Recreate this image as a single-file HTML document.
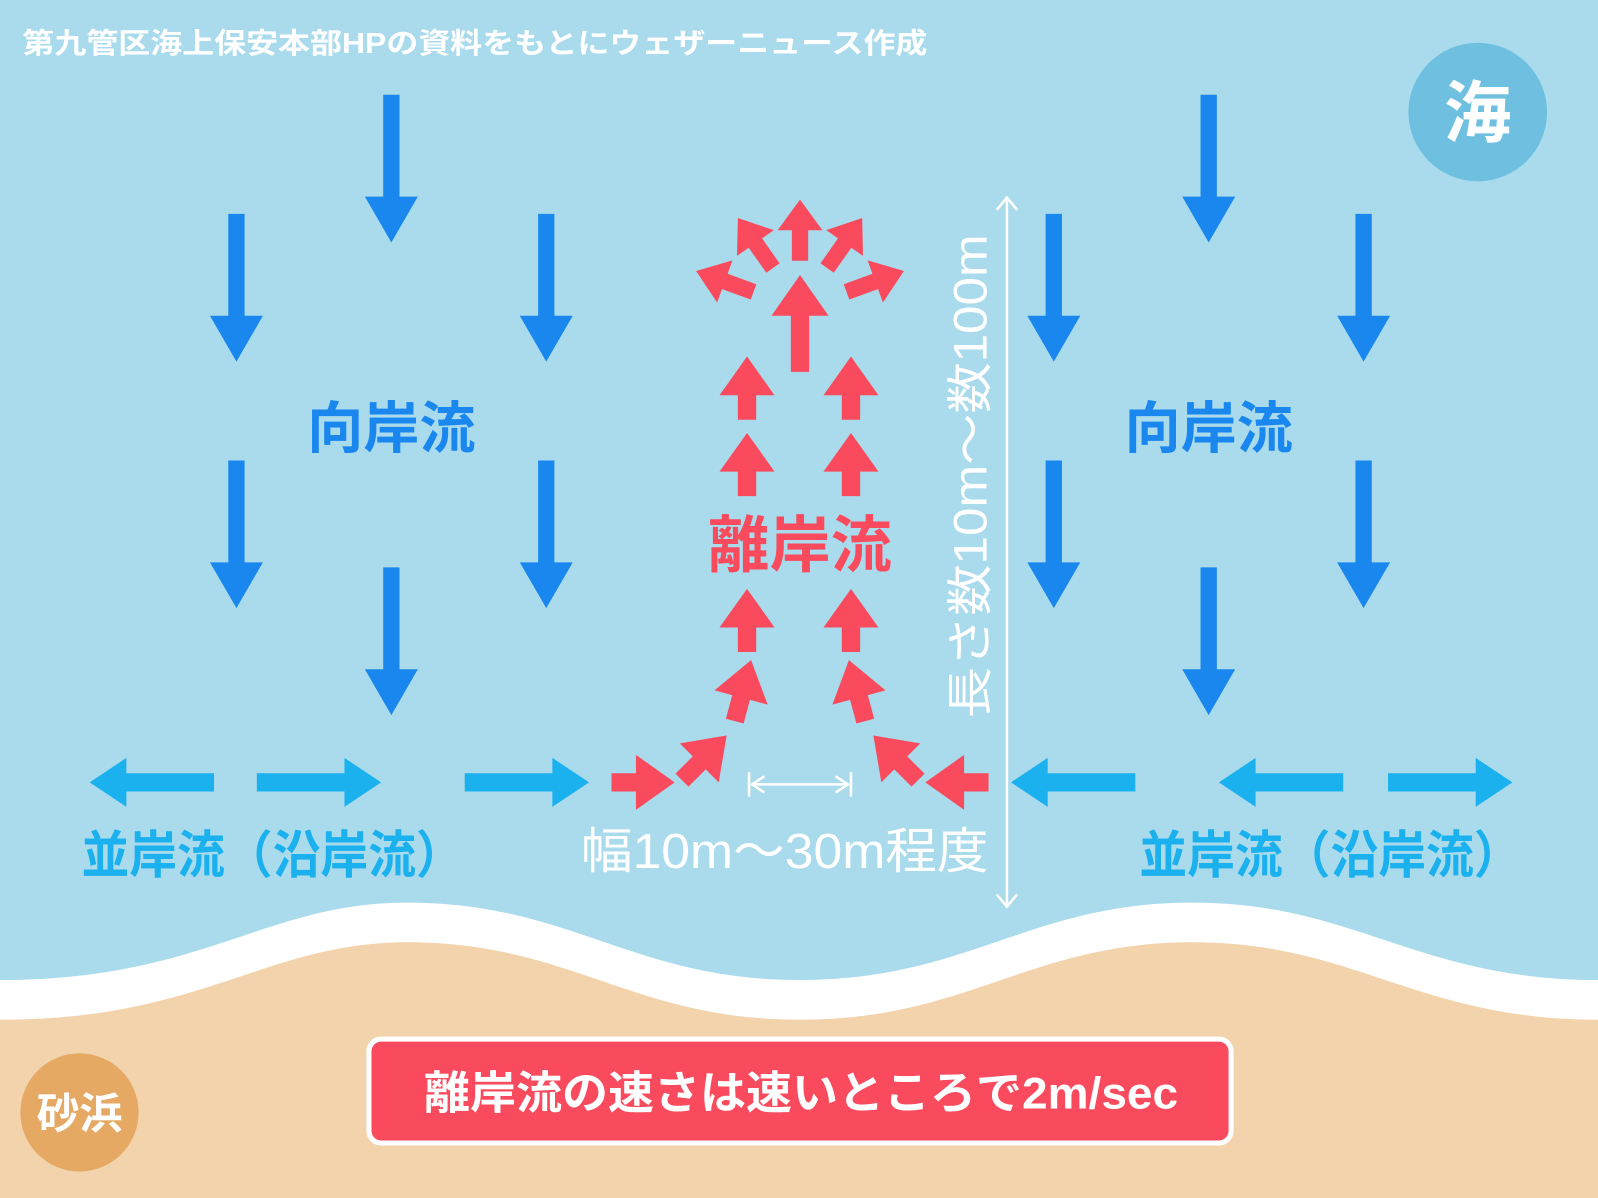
<!DOCTYPE html>
<html><head><meta charset="utf-8"><style>
html,body{margin:0;padding:0;background:#a9dbec}
svg{display:block}
text{font-family:"Liberation Sans","Noto Sans CJK JP",sans-serif;font-weight:bold}
</style></head><body>
<svg width="1598" height="1198" viewBox="0 0 1568 1176" preserveAspectRatio="none" xmlns="http://www.w3.org/2000/svg">
<defs>
<polygon id="bd" points="0,0 26,-45 8,-45 8,-145 -8,-145 -8,-45 -26,-45" fill="#1a87ef"/>
<polygon id="lb" points="0,0 36,-24 36,-9 122,-9 122,9 36,9 36,24" fill="#1bb0ee"/>
<polygon id="ru" points="0,0 27,38 9,38 9,62 -9,62 -9,38 -27,38" fill="#f94b5d"/>
<polygon id="rs" points="0,0 22,30 8,30 8,60 -8,60 -8,30 -22,30" fill="#f94b5d"/>
<polygon id="rb" points="0,0 28,40 9,40 9,95 -9,95 -9,40 -28,40" fill="#f94b5d"/>
</defs>
<rect width="1568" height="1176" fill="#a9dbec"/>
<path d="M0,962 C200,962 260,886 400,886 C560,886 620,962 785,962 C950,962 1010,886 1170,886 C1330,886 1390,962 1568,962 L1568,1176 L0,1176Z" fill="#fff"/>
<path d="M0,1001 C200,1001 260,925 400,925 C560,925 620,1001 785,1001 C950,1001 1010,925 1170,925 C1330,925 1390,1001 1568,1001 L1568,1176 L0,1176Z" fill="#f2d3ab"/>
<text x="22" y="52" font-size="28" fill="#fff" textLength="888" lengthAdjust="spacingAndGlyphs">第九管区海上保安本部HPの資料をもとにウェザーニュース作成</text>
<circle cx="1450" cy="110" r="68" fill="#6fbfe0"/>
<text x="1450" y="134" font-size="66" fill="#fff" text-anchor="middle">海</text>
<circle cx="78" cy="1092" r="58" fill="#e5a964"/>
<text x="78" y="1108" font-size="42" fill="#fff" text-anchor="middle">砂浜</text>
<rect x="362" y="1020" width="846" height="102" rx="12" fill="#f94b5d" stroke="#fff" stroke-width="5"/>
<text x="786" y="1088" font-size="44" fill="#fff" text-anchor="middle" textLength="740" lengthAdjust="spacingAndGlyphs">離岸流の速さは速いところで2m/sec</text>
<use href="#bd" transform="translate(384,238)"/>
<use href="#bd" transform="translate(232,355)"/>
<use href="#bd" transform="translate(536,355)"/>
<use href="#bd" transform="translate(232,597)"/>
<use href="#bd" transform="translate(536,597)"/>
<use href="#bd" transform="translate(384,702)"/>
<use href="#bd" transform="translate(1186,238)"/>
<use href="#bd" transform="translate(1034,355)"/>
<use href="#bd" transform="translate(1338,355)"/>
<use href="#bd" transform="translate(1034,597)"/>
<use href="#bd" transform="translate(1338,597)"/>
<use href="#bd" transform="translate(1186,702)"/>
<text x="384" y="440" font-size="55" fill="#1a87ef" text-anchor="middle">向岸流</text>
<text x="1186" y="440" font-size="55" fill="#1a87ef" text-anchor="middle">向岸流</text>
<use href="#lb" transform="translate(88,768)"/>
<use href="#lb" transform="translate(374,768) rotate(180)"/>
<use href="#lb" transform="translate(578,768) rotate(180)"/>
<use href="#lb" transform="translate(992,768)"/>
<use href="#lb" transform="translate(1196,768)"/>
<use href="#lb" transform="translate(1484,768) rotate(180)"/>
<text x="80" y="857" font-size="50" fill="#1bb0ee" textLength="375" lengthAdjust="spacingAndGlyphs">並岸流（沿岸流）</text>
<text x="1118" y="857" font-size="50" fill="#1bb0ee" textLength="375" lengthAdjust="spacingAndGlyphs">並岸流（沿岸流）</text>
<use href="#ru" transform="translate(733,350)"/>
<use href="#ru" transform="translate(835,350)"/>
<use href="#ru" transform="translate(733,425)"/>
<use href="#ru" transform="translate(835,425)"/>
<use href="#ru" transform="translate(733,578)"/>
<use href="#ru" transform="translate(835,578)"/>
<use href="#rb" transform="translate(785,270)"/>
<use href="#rs" transform="translate(785,196)"/>
<use href="#rs" transform="translate(724,214) rotate(-35)"/>
<use href="#rs" transform="translate(846,214) rotate(35)"/>
<use href="#rs" transform="translate(683,266) rotate(-70)"/>
<use href="#rs" transform="translate(887,266) rotate(70)"/>
<use href="#ru" transform="translate(662,768) rotate(90)"/>
<use href="#ru" transform="translate(713,722) rotate(45)"/>
<use href="#ru" transform="translate(737,648) rotate(15)"/>
<use href="#ru" transform="translate(908,768) rotate(-90)"/>
<use href="#ru" transform="translate(857,722) rotate(-45)"/>
<use href="#ru" transform="translate(833,648) rotate(-15)"/>
<text x="785" y="556" font-size="60" fill="#f94b5d" text-anchor="middle">離岸流</text>
<g stroke="#fff" stroke-width="2.5" fill="none">
<line x1="735" y1="758" x2="735" y2="782"/><line x1="835" y1="758" x2="835" y2="782"/>
<line x1="738" y1="770" x2="832" y2="770"/>
<polyline points="750,762 738,770 750,778"/><polyline points="820,762 832,770 820,778"/>
<line x1="988" y1="194" x2="988" y2="890"/>
<polyline points="978,206 988,194 998,206"/><polyline points="978,878 988,890 998,878"/>
</g>
<text x="570" y="852" font-size="48" fill="#fff" textLength="400" lengthAdjust="spacingAndGlyphs" style="font-weight:normal">幅10m～30m程度</text>
<text transform="translate(968,705) rotate(-90)" font-size="46" fill="#fff" textLength="475" lengthAdjust="spacingAndGlyphs" style="font-weight:normal">長さ数10m～数100m</text>
</svg>
</body></html>
